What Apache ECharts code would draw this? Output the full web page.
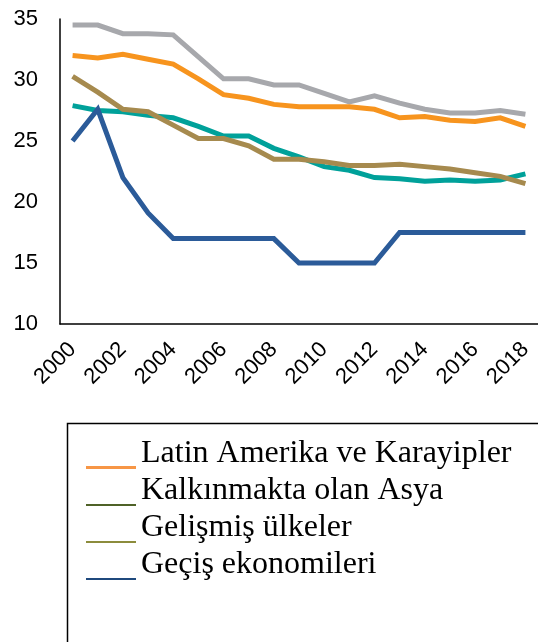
<!DOCTYPE html>
<html lang="tr">
<head>
    <meta charset="UTF-8">
    <title>Chart</title>
    <script src="https://cdn.jsdelivr.net/npm/echarts@6.0.0/dist/echarts.min.js"></script>
    <style>
        body { margin: 0; background: #fff; }
    </style>
</head>
<body>
<div id="main" style="width: 538px;height:642px;"></div>
<script type="text/javascript">

    let years = ['2000', '2001', '2002', '2003', '2004', '2005', '2006', '2007', '2008', '2009',
        '2010', '2011', '2012', '2013', '2014', '2015', '2016', '2017', '2018'];

    let grey = [34.5, 34.5, 33.8, 33.8, 33.7, 31.9, 30.1, 30.1, 29.6, 29.6,
        28.9, 28.2, 28.7, 28.1, 27.6, 27.3, 27.3, 27.5, 27.2];
    let latin = [32.0, 31.8, 32.1, 31.7, 31.3, 30.1, 28.8, 28.5, 28.0, 27.8,
        27.8, 27.8, 27.6, 26.9, 27.0, 26.7, 26.6, 26.9, 26.2];
    let teal = [27.9, 27.5, 27.4, 27.1, 26.9, 26.2, 25.4, 25.4, 24.4, 23.7,
        22.9, 22.6, 22.0, 21.9, 21.7, 21.8, 21.7, 21.8, 22.3];
    let brown = [30.3, 29.0, 27.6, 27.4, 26.3, 25.2, 25.2, 24.6, 23.5, 23.5,
        23.3, 23.0, 23.0, 23.1, 22.9, 22.7, 22.4, 22.1, 21.5];
    let gecis = [25.0, 27.6, 22.0, 19.1, 17.0, 17.0, 17.0, 17.0, 17.0, 15.0,
        15.0, 15.0, 15.0, 17.5, 17.5, 17.5, 17.5, 17.5, 17.5];

    let legendNames = ['Latin Amerika ve Karayipler', 'Kalkınmakta olan Asya', 'Gelişmiş ülkeler', 'Geçiş ekonomileri'];
    let legendColors = ['#F79646', '#4F6228', '#8C8C3C', '#1F497D'];

    // legend icon: a short line sitting under the text baseline
    let thickIcon = 'path://M0,0 L0.01,0 L0.01,0.01 Z M0,27 L50,27 L50,30 L0,30 Z';
    let thinIcon = 'path://M0,0 L0.01,0 L0.01,0.01 Z M0,28 L50,28 L50,30 L0,30 Z';

    function line(name, data, color) {
        return {
            name: name,
            type: 'line',
            data: data,
            symbol: 'none',
            lineStyle: { width: 5, color: color, join: 'miter' },
            itemStyle: { color: color }
        };
    }

    option = {
        backgroundColor: '#fff',
        animation: false,
        grid: {
            left: 60,
            right: -8,
            top: 19,
            bottom: 318
        },
        legend: {
            orient: 'vertical',
            left: 86,
            top: 438,
            height: 400,
            padding: 0,
            itemWidth: 50,
            itemHeight: 30,
            itemGap: 5,
            textStyle: {
                fontFamily: 'Liberation Serif',
                fontSize: 32,
                color: '#000'
            },
            data: legendNames.map((n, i) => ({
                name: n,
                icon: i === 0 ? thickIcon : thinIcon,
                itemStyle: { color: legendColors[i], borderWidth: 0 }
            }))
        },
        graphic: [{
            type: 'rect',
            left: 65,
            top: 421,
            shape: { width: 500, height: 300 },
            style: { fill: 'none', stroke: '#000', lineWidth: 1.5 }
        }],
        xAxis: {
            type: 'category',
            data: years,
            boundaryGap: true,
            axisLine: { lineStyle: { color: '#000', width: 1.5 } },
            axisTick: { show: false },
            axisLabel: {
                interval: 1,
                rotate: 45,
                margin: 22,
                fontFamily: 'Liberation Sans',
                fontSize: 22,
                color: '#000'
            }
        },
        yAxis: {
            type: 'value',
            min: 10,
            max: 35,
            interval: 5,
            axisLine: { show: true, lineStyle: { color: '#000', width: 1.5 } },
            axisTick: { show: false },
            splitLine: { show: false },
            axisLabel: {
                margin: 22,
                fontFamily: 'Liberation Sans',
                fontSize: 22,
                color: '#000'
            }
        },
        series: [
            line('Diğer', grey, '#A7A8AC'),
            line(legendNames[0], latin, '#F7941E'),
            line(legendNames[1], teal, '#00A19A'),
            line(legendNames[2], brown, '#A68A4E'),
            line(legendNames[3], gecis, '#2B5B99')
        ]
    };

    let myChart = echarts.init(document.getElementById('main'));
    myChart.setOption(option);
</script>
</body>
</html>
